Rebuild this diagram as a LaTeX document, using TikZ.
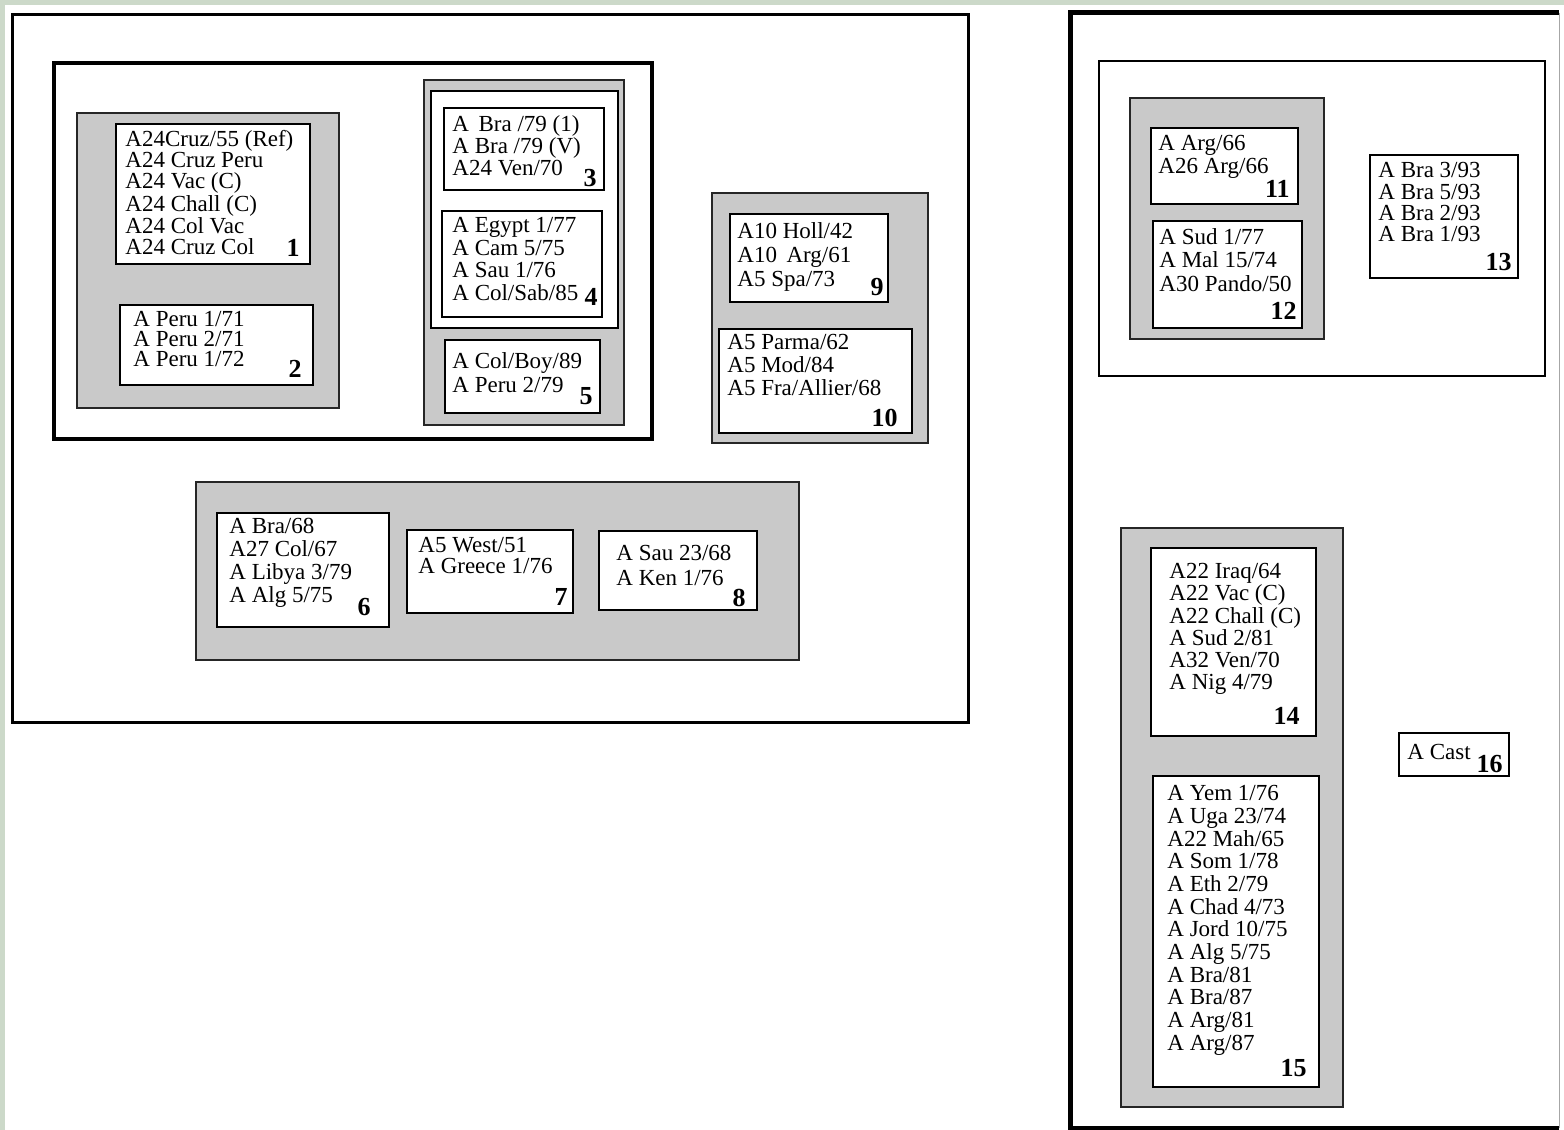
\documentclass[tikz,border=0pt]{standalone}
\usepackage{fontspec}
\setmainfont{Liberation Serif}
\usetikzlibrary{fit}
\definecolor{stripc}{rgb}{0.80,0.85,0.79}
\definecolor{gfill}{rgb}{0.79,0.79,0.79}
\newcommand\bx[6]{\node[#6, fit={(#2,#3)(#4,#5)}] (#1) {};}
\begin{document}
\begin{tikzpicture}[x=0.5pt,y=-0.5pt,
  outerbox/.style={draw=black, line width=1.5pt, inner sep=0pt, fill=white},
  thickbox/.style={draw=black, line width=2.2pt, inner sep=0pt},
  framebox/.style={draw=black, line width=1pt, inner sep=0pt, fill=white},
  graybox/.style={draw=black!85, line width=0.8pt, inner sep=0pt, fill=gfill},
  wbox/.style={draw=black, line width=1.1pt, inner sep=0pt, fill=white},
  txt/.style={anchor=north west, inner sep=0pt, align=left, font=\fontsize{11.5}{#1}\selectfont},
  txt/.default=11,
  num/.style={anchor=south east, inner sep=0pt, font=\fontsize{13}{13}\selectfont\bfseries}]
\useasboundingbox (0,0) rectangle (1564,1130);
\fill[white] (0,0) rectangle (1564,1130);
\fill[stripc] (0,0) rectangle (1564,5);
\fill[stripc] (0,0) rectangle (5,1130);

% ---------- left panel ----------
\bx{L}{12}{14}{968}{722}{outerbox}
\bx{A}{54}{63}{652}{439}{thickbox}

\bx{G1}{77}{113}{339}{408}{graybox}
\bx{b1}{116}{124}{310}{264}{wbox}
\node[txt=10.4] (t1) at (125,130) {A24Cruz/55 (Ref)\\A24 Cruz Peru\\A24 Vac (C)\\A24 Chall (C)\\A24 Col Vac\\A24 Cruz Col};
\node[num] (n1) at (300,257) {1};
\bx{b2}{120}{305}{313}{385}{wbox}
\node[txt=10] (t2) at (133,311) {A Peru 1/71\\A Peru 2/71\\A Peru 1/72};
\node[num] (n2) at (302,378) {2};

\bx{G2}{424}{80}{624}{425}{graybox}
\bx{F2}{431}{91}{618}{328}{framebox}
\bx{b3}{444}{108}{604}{190}{wbox}
\node[txt=11] (t3) at (452,115) {A\, Bra /79 (1)\\A Bra /79 (V)\\A24 Ven/70};
\node[num] (n3) at (597,187) {3};
\bx{b4}{442}{211}{602}{317}{wbox}
\node[txt=11.3] (t4) at (452,217) {A Egypt 1/77\\A Cam 5/75\\A Sau 1/76\\A Col/Sab/85};
\node[num] (n4) at (598,306) {4};
\bx{b5}{445}{340}{600}{413}{wbox}
\node[txt=12] (t5) at (452,352) {A Col/Boy/89\\A Peru 2/79};
\node[num] (n5) at (593,405) {5};

\bx{G3}{712}{193}{928}{443}{graybox}
\bx{b9}{730}{214}{888}{302}{wbox}
\node[txt=12] (t9) at (737,222) {A10 Holl/42\\A10\, Arg/61\\A5 Spa/73};
\node[num] (n9) at (884,296) {9};
\bx{b10}{719}{329}{912}{433}{wbox}
\node[txt=11.5] (t10) at (727,334) {A5 Parma/62\\A5 Mod/84\\A5 Fra/Allier/68};
\node[num] (n10) at (898,427) {10};

\bx{G4}{196}{482}{799}{660}{graybox}
\bx{b6}{217}{513}{389}{627}{wbox}
\node[txt=11.5] (t6) at (229,518) {A Bra/68\\A27 Col/67\\A Libya 3/79\\A Alg 5/75};
\node[num] (n6) at (371,616) {6};
\bx{b7}{407}{530}{573}{613}{wbox}
\node[txt=10.5] (t7) at (418,537) {A5 West/51\\A Greece 1/76};
\node[num] (n7) at (568,606) {7};
\bx{b8}{599}{531}{757}{610}{wbox}
\node[txt=12.5] (t8) at (616,545) {A Sau 23/68\\A Ken 1/76};
\node[num] (n8) at (746,607) {8};

% ---------- right panel ----------
\node[inner sep=0pt, fit={(1071,13)(1559,1128)}] (R) {};
\draw[line width=2.2pt] (R.north east) -- (R.north west) -- (R.south west) -- (R.south east);
\draw[black!35, line width=0.6pt] (R.north east) -- (R.south east);

\bx{R1}{1099}{61}{1545}{376}{framebox}
\bx{G5}{1130}{98}{1324}{339}{graybox}
\bx{b11}{1151}{128}{1298}{204}{wbox}
\node[txt=11.5] (t11) at (1158,135) {A Arg/66\\A26 Arg/66};
\node[num] (n11) at (1290,198) {11};
\bx{b12}{1153}{221}{1302}{328}{wbox}
\node[txt=11.7] (t12) at (1159,228) {A Sud 1/77\\A Mal 15/74\\A30 Pando/50};
\node[num] (n12) at (1297,320) {12};
\bx{b13}{1370}{155}{1518}{278}{wbox}
\node[txt=10.7] (t13) at (1378,162) {A Bra 3/93\\A Bra 5/93\\A Bra 2/93\\A Bra 1/93};
\node[num] (n13) at (1512,271) {13};

\bx{G6}{1121}{528}{1343}{1107}{graybox}
\bx{b14}{1151}{548}{1316}{736}{wbox}
\node[txt=11.1] (t14) at (1169,563) {A22 Iraq/64\\A22 Vac (C)\\A22 Chall (C)\\A Sud 2/81\\A32 Ven/70\\A Nig 4/79};
\node[num] (n14) at (1300,725) {14};
\bx{b15}{1153}{776}{1319}{1087}{wbox}
\node[txt=11.35] (t15) at (1167,785) {A Yem 1/76\\A Uga 23/74\\A22 Mah/65\\A Som 1/78\\A Eth 2/79\\A Chad 4/73\\A Jord 10/75\\A Alg 5/75\\A Bra/81\\A Bra/87\\A Arg/81\\A Arg/87};
\node[num] (n15) at (1307,1077) {15};

\bx{b16}{1399}{733}{1509}{776}{wbox}
\node[txt] (t16) at (1407,744) {A Cast};
\node[num] (n16) at (1503,773) {16};
\end{tikzpicture}
\end{document}
